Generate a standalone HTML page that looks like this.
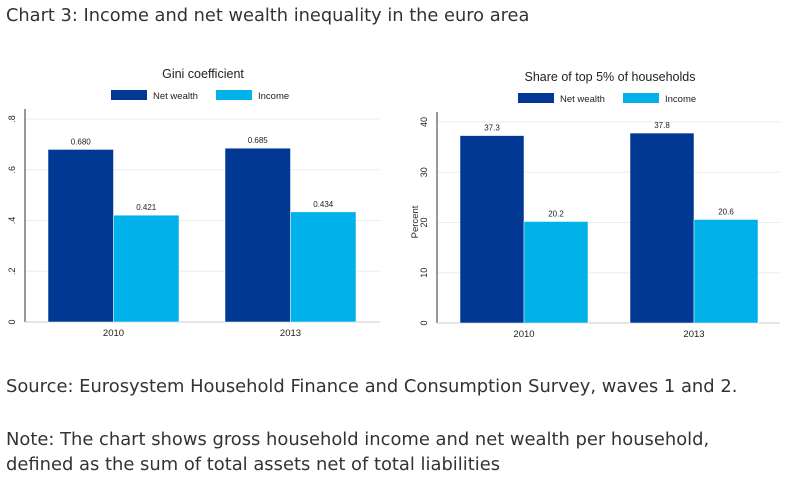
<!DOCTYPE html>
<html><head><meta charset="utf-8"><style>
body{margin:0;background:#fff;width:803px;height:491px;overflow:hidden;font-family:"Liberation Sans",sans-serif;}
.t{position:absolute;left:6px;font-size:17.9px;color:#333;font-family:"DejaVu Sans","Liberation Sans",sans-serif;white-space:nowrap;}
svg{position:absolute;left:0;top:0}
</style></head><body>
<div class="t" style="top:5px;font-size:17.8px">Chart 3: Income and net wealth inequality in the euro area</div>
<div class="t" style="top:376px">Source: Eurosystem Household Finance and Consumption Survey, waves 1 and 2.</div>
<div class="t" style="top:429px">Note: The chart shows gross household income and net wealth per household,</div>
<div class="t" style="top:454px">defined as the sum of total assets net of total liabilities</div>
<svg id="s" width="803" height="491"></svg>
<script>
const categories=["2010","2013"];
const giniWealth=[0.680,0.685];
const giniIncome=[0.421,0.434];
const giniLabels=["0.680","0.685","0.421","0.434"];
const giniTicks=[0,0.2,0.4,0.6,0.8];
const giniTickLabels=["0",".2",".4",".6",".8"];
const topWealth=[37.3,37.8];
const topIncome=[20.2,20.6];
const topTicks=[0,10,20,30,40];
const topTickLabels=["0","10","20","30","40"];
const svg=document.getElementById('s');
const NS="http://www.w3.org/2000/svg";
function mk(tag,attrs,parent){const e=document.createElementNS(NS,tag);for(const k in attrs)e.setAttribute(k,attrs[k]);(parent||svg).appendChild(e);return e;}
function txt(x,y,s,size,extra){const e=mk('text',Object.assign({x:x,y:y,'font-size':size,fill:'#222','text-anchor':'middle','font-family':'Liberation Sans, sans-serif'},extra||{}));e.textContent=s;return e;}
function panel(cfg){
  const g=mk('g',{});
  
  
  const y=v=>cfg.base-(v/cfg.max)*(cfg.base-cfg.top);
  cfg.ticks.forEach((t,i)=>{
    const gl=mk('line',{x1:cfg.ax,x2:cfg.right,y1:y(t),y2:y(t),stroke:'#e8eef2','stroke-width':1},g);
    
    const tl=txt(cfg.ax-10,y(t),cfg.tickLabels[i],9,{transform:`rotate(-90 ${cfg.ax-10} ${y(t)})`});
    
    g.appendChild(tl);
  });
  const axl=mk('line',{x1:cfg.ax,x2:cfg.ax,y1:cfg.top-10,y2:cfg.base,stroke:'#555','stroke-width':1.2},g);
  
  const bl=mk('line',{x1:cfg.ax,x2:cfg.right,y1:cfg.base,y2:cfg.base,stroke:'#ccc','stroke-width':1},g);
  
  categories.forEach((c,i)=>{
    const x0=cfg.groups[i];
    [[cfg.w[i],'#003893',cfg.wl[i]],[cfg.inc[i],'#00b1ea',cfg.il[i]]].forEach((d,j)=>{
      const bx=x0+j*cfg.bw;
      const r=mk('rect',{x:bx,y:y(d[0]),width:cfg.bw,height:cfg.base-y(d[0]),fill:d[1],stroke:'#fff','stroke-width':0.5},g);
      
      
      const l=txt(bx+cfg.bw/2,y(d[0])-5,d[2],8);
      
      g.appendChild(l);
    });
    const xl=txt(x0+cfg.bw,cfg.base+14,c,9.5);
    
    g.appendChild(xl);
  });
  const tt=txt(cfg.titleX,cfg.titleY,cfg.title,12.5);
  
  g.appendChild(tt);
  [['Net wealth','#003893',cfg.leg[0]],['Income','#00b1ea',cfg.leg[1]]].forEach(d=>{
    const r=mk('rect',{x:d[2],y:cfg.legY,width:36,height:10,fill:d[1]},g);
    
    const t=txt(d[2]+42,cfg.legY+9,d[0],9.5,{'text-anchor':'start'});
    
    g.appendChild(t);
  });
  if(cfg.ylabel){const t=txt(cfg.ax-19,222,cfg.ylabel,9.5,{transform:`rotate(-90 ${cfg.ax-19} 222)`});
    g.appendChild(t);}
}
panel({name:'gini-chart',ax:25,right:380,top:119,base:322,max:0.8,ticks:giniTicks,tickLabels:giniTickLabels,
  groups:[48,225],bw:65.5,w:giniWealth,inc:giniIncome,wl:[giniLabels[0],giniLabels[1]],il:[giniLabels[2],giniLabels[3]],
  title:'Gini coefficient',titleX:203,titleY:78,leg:[111,216],legY:90});
panel({name:'top5-share-chart',ax:437,right:780,top:122,base:323,max:40,ticks:topTicks,tickLabels:topTickLabels,
  groups:[460,630],bw:64,w:topWealth,inc:topIncome,wl:topWealth.map(v=>v.toFixed(1)),il:topIncome.map(v=>v.toFixed(1)),
  title:'Share of top 5% of households',titleX:610,titleY:81,leg:[518,623],legY:93,ylabel:'Percent'});
</script>
</body></html>
